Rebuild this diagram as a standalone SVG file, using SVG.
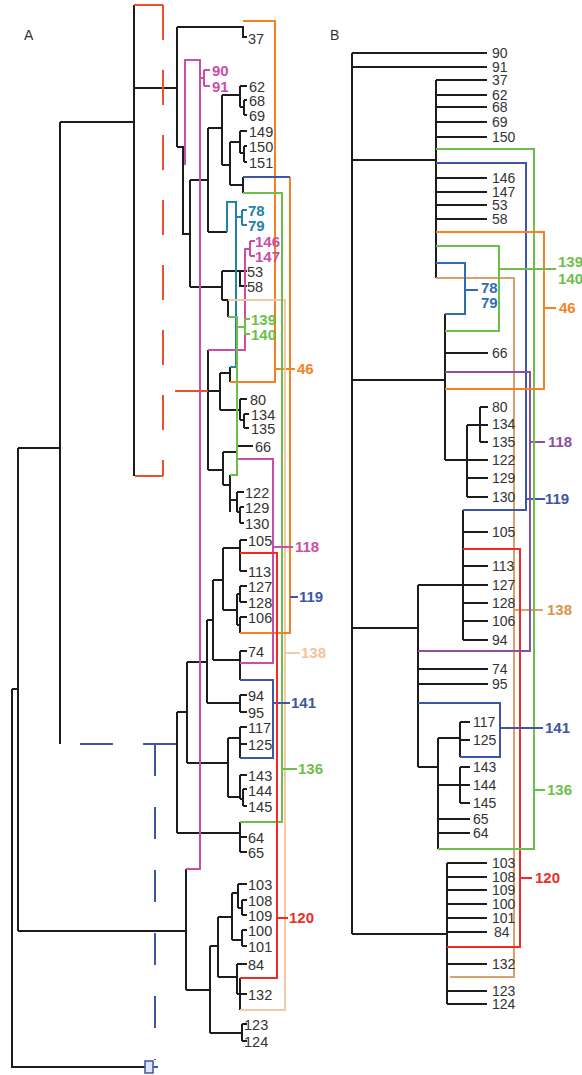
<svg xmlns="http://www.w3.org/2000/svg" width="582" height="1075" viewBox="0 0 582 1075">
<style>
.k{stroke:#1c1c1c;stroke-width:2;fill:none}
.c{stroke-width:2;fill:none}
.or{stroke:#f5821f}.bl{stroke:#3d56a6}.gr{stroke:#6dbf4b}.pe{stroke:#f3caa5}.tn{stroke:#dca06c}
.mg{stroke:#c94fa6}.pu{stroke:#8c4f9f}.rd{stroke:#ee2b25}.tl{stroke:#2283a8}.b2{stroke:#2f6cb5}.ro{stroke:#e8502e}
.t{font-family:"Liberation Sans",Arial,sans-serif;font-size:14px;fill:#333}
.ta{font-family:"Liberation Sans",Arial,sans-serif;font-size:14.5px;fill:#333}
.g{font-family:"Liberation Sans",Arial,sans-serif;font-size:15px;font-weight:bold}
.fo{fill:#f5821f}.fb{fill:#3d56a6}.fg{fill:#6dbf4b}.fp{fill:#f3c39a}.ft{fill:#d9934f}.fm{fill:#c94fa6}.fu{fill:#8c4f9f}.fr{fill:#ee2b25}.fl{fill:#2283a8}.f2{fill:#2f6cb5}
</style>
<g id="labels-panels">
<text class="t" x="24" y="40" font-size="13">A</text>
<text class="t" x="330" y="40" font-size="13">B</text>
</g>
<g id="connectors-A">
<path class="k" d="M12,689V1067H145 M12,689H18 M18,448V931 M18,448H60 M60,122V744 M60,122H134 M134,5V476 M134,88H177 M177,27V147 M177,27H243V37H247 M177,147H183V234H190 M190,180V287 M190,180H208 M208,128V232 M208,128H222 M222,95V165 M222,95H240 M240,86V107 M240,86H247 M240,107H244 M244,100V115 M244,100H247 M244,115H247 M222,165H230 M230,142V185 M230,142H240 M240,131V153 M240,131H247 M240,153H244 M244,146V162 M244,146H247 M244,162H247 M230,185H243 M243,177V193 M208,232H227"/>
<path class="k" d="M190,287H222 M222,271V300 M222,271H247 M240,271V286H247 M222,300H228V317 M208,350V470 M208,391H220 M220,373V410 M220,373H230 M230,367V382 M220,410H240 M240,399V420 M240,399H247 M240,420H244 M244,414V428 M244,414H249 M244,428H249 M208,470H223 M223,452V485 M223,452H237 M223,485H230 M230,475V512 M230,500H237 M237,492V512 M237,492H244 M237,512H240 M240,507V523 M240,507H244 M240,523H244 M237,446H253"/>
<path class="k" d="M177,712V833 M177,712H187 M187,662V763 M187,662H207 M207,620V703 M207,620H213 M213,580V660 M213,580H223 M223,548V610 M223,548H240 M240,540V571 M240,540H247 M240,571H247 M223,610H237 M237,594V625 M237,594H240 M240,586V602 M240,586H247 M240,602H247 M237,625H240 M240,617V633 M240,617H247 M213,660H240 M240,651V680 M240,651H247 M207,703H240 M240,695V712 M240,695H247 M240,712H247 M187,763H228 M228,738V797 M228,738H240 M240,727V758 M240,727H247 M240,744H247 M228,797H240 M240,775V799 M240,775H247 M240,799H243 M243,789V806 M243,789H247 M243,806H247 M177,833H240 M240,822V852 M240,837H247 M240,852H247"/>
<path class="k" d="M18,931H186 M186,869V990 M186,990H210 M210,946V1033 M210,946H218 M218,917V977 M218,917H232 M232,893V940 M232,893H238 M238,884V908 M238,884H247 M238,908H242 M242,900V915 M242,900H247 M242,915H247 M232,940H242 M242,930V946 M242,930H247 M242,946H247 M218,977H237 M237,964V994 M237,964H247 M237,994H247 M240,978V1010 M210,1033H242 M242,1024V1041 M242,1024H247 M242,1041H247"/>
<path class="c ro" d="M134,5H163 M163,476H135 M175,391H208"/>
<path class="c ro" d="M163,5V476" stroke-dasharray="35,30"/>
<path class="c bl" d="M80,744H177" stroke-dasharray="33,30"/>
<path class="c bl" d="M155,744V1060" stroke-dasharray="32,31"/>
<rect x="145" y="1061" width="8" height="12" fill="#dfe5f5" stroke="#3d56a6" stroke-width="1.5"/>
<path class="c bl" d="M153,1067H158"/>
<path class="c mg" d="M185,165V60H200V869H186 M200,78H204 M204,70V86 M204,70H210 M204,86H210"/>
<path class="c tl" d="M227,232V202H236V367H230 M236,217H242 M242,210V225 M242,210H247 M242,225H247"/>
<path class="c mg" d="M208,350H245V249H250 M250,241V256 M250,241H255 M250,256H255"/>
<path class="c or" d="M243,21H275V382H230 M275,369H295"/>
<path class="c pe" d="M228,300H285V1010H240 M285,653H300"/>
<path class="c gr" d="M243,193H282V822H240 M282,769H297"/>
<path class="c or" d="M290,177V633H240"/>
<path class="c bl" d="M243,177H290 M290,597H298"/>
<path class="c gr" d="M228,317H237V475H230 M237,327H245 M245,319V334 M245,319H250 M245,334H250"/>
<path class="c mg" d="M238,459H273V663H240 M273,547H293"/>
<path class="c bl" d="M240,680H273V758H240 M273,703H290"/>
<path class="c rd" d="M240,553H277V978H240 M277,918H288"/>
</g>
<g id="nodes-A">
<g id="a37"><text class="ta" x="248" y="44">37</text></g>
<g id="a90"><text class="g fm" x="212" y="76">90</text></g>
<g id="a91"><text class="g fm" x="212" y="92">91</text></g>
<g id="a62"><text class="ta" x="249" y="92">62</text></g>
<g id="a68"><text class="ta" x="249" y="106">68</text></g>
<g id="a69"><text class="ta" x="249" y="121">69</text></g>
<g id="a149"><text class="ta" x="249" y="137">149</text></g>
<g id="a150"><text class="ta" x="249" y="152">150</text></g>
<g id="a151"><text class="ta" x="249" y="168">151</text></g>
<g id="a78"><text class="g fl" x="248" y="216">78</text></g>
<g id="a79"><text class="g fl" x="248" y="231">79</text></g>
<g id="a146"><text class="g fm" x="255" y="247">146</text></g>
<g id="a147"><text class="g fm" x="255" y="262">147</text></g>
<g id="a53"><text class="ta" x="247" y="277">53</text></g>
<g id="a58"><text class="ta" x="247" y="292">58</text></g>
<g id="a139"><text class="g fg" x="251" y="325">139</text></g>
<g id="a140"><text class="g fg" x="251" y="340">140</text></g>
<g id="a80"><text class="ta" x="250" y="405">80</text></g>
<g id="a134"><text class="ta" x="251" y="420">134</text></g>
<g id="a135"><text class="ta" x="251" y="434">135</text></g>
<g id="a66"><text class="ta" x="255" y="452">66</text></g>
<g id="a122"><text class="ta" x="245" y="498">122</text></g>
<g id="a129"><text class="ta" x="245" y="513">129</text></g>
<g id="a130"><text class="ta" x="245" y="529">130</text></g>
<g id="a105"><text class="ta" x="248" y="546">105</text></g>
<g id="a113"><text class="ta" x="248" y="577">113</text></g>
<g id="a127"><text class="ta" x="248" y="592">127</text></g>
<g id="a128"><text class="ta" x="248" y="608">128</text></g>
<g id="a106"><text class="ta" x="248" y="623">106</text></g>
<g id="a74"><text class="ta" x="248" y="657">74</text></g>
<g id="a94"><text class="ta" x="248" y="701">94</text></g>
<g id="a95"><text class="ta" x="248" y="718">95</text></g>
<g id="a117"><text class="ta" x="248" y="733">117</text></g>
<g id="a125"><text class="ta" x="248" y="750">125</text></g>
<g id="a143"><text class="ta" x="248" y="781">143</text></g>
<g id="a144"><text class="ta" x="248" y="796">144</text></g>
<g id="a145"><text class="ta" x="248" y="812">145</text></g>
<g id="a64"><text class="ta" x="248" y="843">64</text></g>
<g id="a65"><text class="ta" x="248" y="858">65</text></g>
<g id="a103"><text class="ta" x="248" y="890">103</text></g>
<g id="a108"><text class="ta" x="248" y="906">108</text></g>
<g id="a109"><text class="ta" x="248" y="921">109</text></g>
<g id="a100"><text class="ta" x="248" y="936">100</text></g>
<g id="a101"><text class="ta" x="248" y="952">101</text></g>
<g id="a84"><text class="ta" x="248" y="970">84</text></g>
<g id="a132"><text class="ta" x="248" y="1000">132</text></g>
<g id="a123"><text class="ta" x="244" y="1030">123</text></g>
<g id="a124"><text class="ta" x="244" y="1047">124</text></g>
<g id="aG46"><text class="g fo" x="297" y="374">46</text></g>
<g id="aG118"><text class="g fm" x="295" y="552">118</text></g>
<g id="aG119"><text class="g fb" x="299" y="602">119</text></g>
<g id="aG138"><text class="g fp" x="301" y="658">138</text></g>
<g id="aG141"><text class="g fb" x="291" y="708">141</text></g>
<g id="aG136"><text class="g fg" x="298" y="774">136</text></g>
<g id="aG120"><text class="g fr" x="289" y="923">120</text></g>
</g>
<g id="connectors-B">
<path class="k" d="M352,53V934 M352,53H487 M352,67H487 M352,160H436 M436,80V278 M436,80H487 M436,95H487 M436,107H487 M436,122H487 M436,137H487 M436,178H487 M436,192H487 M436,205H487 M436,219H487 M352,380H445 M445,314V460 M445,353H488 M445,460H488 M467,425V497 M467,425H488 M480,407V442 M480,407H488 M480,442H488 M467,478H488 M467,497H488 M352,628H418 M418,585V767 M418,585H488 M463,510V640 M463,532H488 M463,566H488 M463,603H488 M463,621H488 M463,640H488 M418,669H488 M418,684H488 M418,767H438 M438,738V849 M438,738H460 M460,722V757 M460,722H470 M460,740H470 M438,785H470 M460,767V803 M460,767H470 M460,803H470 M438,819H470 M438,833H470 M352,934H447 M447,863V1004 M447,863H487 M447,877H487 M447,890H487 M447,904H487 M447,918H487 M447,932H487 M447,964H487 M447,991H487 M447,1004H487"/>
<path class="c tn" d="M436,278H514V977H450 M514,610H543"/>
<path class="c rd" d="M463,549H520V947H447 M520,878H532"/>
<path class="c bl" d="M436,163H526V510H463 M526,499H545"/>
<path class="c pu" d="M445,372H530V651H418 M530,442H545"/>
<path class="c gr" d="M436,149H534V849H438 M534,790H545"/>
<path class="c or" d="M436,232H544V389H445 M544,308H556"/>
<path class="c gr" d="M436,246H499V331H445 M499,269H556"/>
<path class="c b2" d="M436,263H465V314H445 M465,290H478"/>
<path class="c bl" d="M418,703H500V757H460 M500,728H543"/>
</g>
<g id="nodes-B">
<g id="b90"><text class="t" x="492" y="58">90</text></g>
<g id="b91"><text class="t" x="492" y="72">91</text></g>
<g id="b37"><text class="t" x="492" y="85">37</text></g>
<g id="b62"><text class="t" x="492" y="100">62</text></g>
<g id="b68"><text class="t" x="492" y="112">68</text></g>
<g id="b69"><text class="t" x="492" y="127">69</text></g>
<g id="b150"><text class="t" x="492" y="142">150</text></g>
<g id="b146"><text class="t" x="492" y="183">146</text></g>
<g id="b147"><text class="t" x="492" y="197">147</text></g>
<g id="b53"><text class="t" x="492" y="210">53</text></g>
<g id="b58"><text class="t" x="492" y="224">58</text></g>
<g id="b66"><text class="t" x="492" y="358">66</text></g>
<g id="b80"><text class="t" x="492" y="412">80</text></g>
<g id="b134"><text class="t" x="492" y="429">134</text></g>
<g id="b135"><text class="t" x="492" y="447">135</text></g>
<g id="b122"><text class="t" x="492" y="465">122</text></g>
<g id="b129"><text class="t" x="492" y="483">129</text></g>
<g id="b130"><text class="t" x="492" y="502">130</text></g>
<g id="b105"><text class="t" x="492" y="537">105</text></g>
<g id="b113"><text class="t" x="492" y="571">113</text></g>
<g id="b127"><text class="t" x="492" y="590">127</text></g>
<g id="b128"><text class="t" x="492" y="608">128</text></g>
<g id="b106"><text class="t" x="492" y="626">106</text></g>
<g id="b94"><text class="t" x="492" y="645">94</text></g>
<g id="b74"><text class="t" x="492" y="674">74</text></g>
<g id="b95"><text class="t" x="492" y="689">95</text></g>
<g id="b117"><text class="t" x="473" y="727">117</text></g>
<g id="b125"><text class="t" x="473" y="745">125</text></g>
<g id="b143"><text class="t" x="473" y="772">143</text></g>
<g id="b144"><text class="t" x="473" y="790">144</text></g>
<g id="b145"><text class="t" x="473" y="808">145</text></g>
<g id="b65"><text class="t" x="473" y="824">65</text></g>
<g id="b64"><text class="t" x="473" y="838">64</text></g>
<g id="b103"><text class="t" x="492" y="868">103</text></g>
<g id="b108"><text class="t" x="492" y="882">108</text></g>
<g id="b109"><text class="t" x="492" y="895">109</text></g>
<g id="b100"><text class="t" x="492" y="909">100</text></g>
<g id="b101"><text class="t" x="492" y="923">101</text></g>
<g id="b84"><text class="t" x="494" y="937">84</text></g>
<g id="b132"><text class="t" x="492" y="969">132</text></g>
<g id="b123"><text class="t" x="492" y="996">123</text></g>
<g id="b124"><text class="t" x="492" y="1009">124</text></g>
<g id="bG139"><text class="g fg" x="558" y="267">139</text></g>
<g id="bG140"><text class="g fg" x="558" y="284">140</text></g>
<g id="bG78"><text class="g f2" x="481" y="293">78</text></g>
<g id="bG79"><text class="g f2" x="481" y="308">79</text></g>
<g id="bG46"><text class="g fo" x="559" y="313">46</text></g>
<g id="bG118"><text class="g fu" x="548" y="447">118</text></g>
<g id="bG119"><text class="g fb" x="545" y="504">119</text></g>
<g id="bG138"><text class="g ft" x="547" y="615">138</text></g>
<g id="bG141"><text class="g fb" x="545" y="733">141</text></g>
<g id="bG136"><text class="g fg" x="547" y="795">136</text></g>
<g id="bG120"><text class="g fr" x="535" y="883">120</text></g>
</g>
</svg>
